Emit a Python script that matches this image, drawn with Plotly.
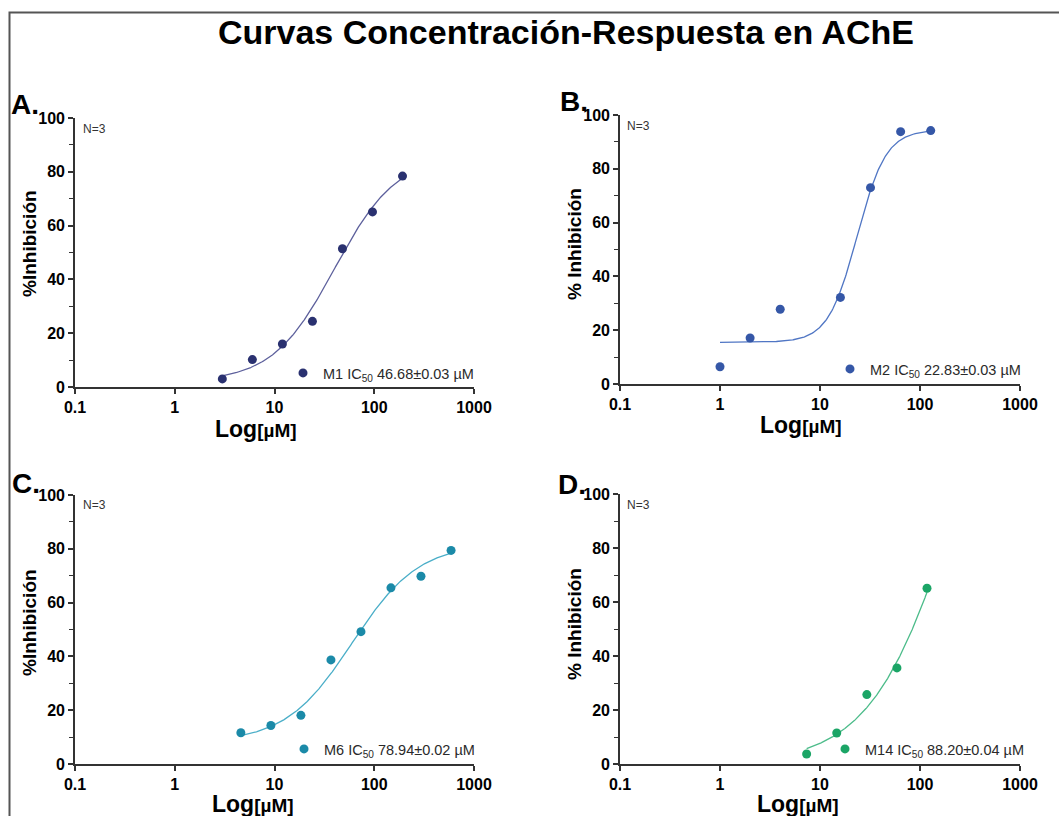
import numpy as np
import plotly.graph_objects as go

W, H = 1059, 816

# ---------------- data ----------------
compounds = ["M1", "M2", "M6", "M14"]
conc_M1 = [3, 6, 12, 24, 48, 96, 192]
inh_M1 = [3.0, 10.2, 16.0, 24.4, 51.4, 65.1, 78.4]
conc_M2 = [1, 2, 4, 16, 32, 64, 128]
inh_M2 = [6.4, 17.1, 27.8, 32.2, 73.0, 93.8, 94.2]
conc_M6 = [4.6, 9.2, 18.4, 36.8, 73.6, 147, 294, 589]
inh_M6 = [11.6, 14.3, 18.1, 38.7, 49.2, 65.5, 69.8, 79.4]
conc_M14 = [7.35, 14.7, 29.4, 58.8, 117.5]
inh_M14 = [3.7, 11.5, 25.7, 35.6, 65.1]

ic50_labels = ["46.68±0.03", "22.83±0.03", "78.94±0.02", "88.20±0.04"]

# fitted 4-parameter logistic curves (bottom, top, EC50, hill)
fit_bottom = [2, 15.5, 8, 0]
fit_top = [86, 94.5, 82, 200]
fit_ec50 = [40, 23.5, 60, 252]
fit_hill = [1.4, 3.0, 1.3, 1.0]

x_tick_vals = [0.1, 1, 10, 100, 1000]
x_tick_text = ["0.1", "1", "10", "100", "1000"]
panel_letters = ["A.", "B.", "C.", "D."]
y_titles = ["%Inhibición", "% Inhibición", "%Inhibición", "% Inhibición"]

marker_colors = ["#2a3170", "#3557a7", "#1b8aa8", "#1ba566"]
line_colors = ["#5d609c", "#5076c4", "#4aaec8", "#4cbc8a"]

concs = [conc_M1, conc_M2, conc_M6, conc_M14]
inhs = [inh_M1, inh_M2, inh_M6, inh_M14]

# ---------------- layout geometry (pixels) ----------------
def px(x):
    return x / W

def py(y):
    return 1 - y / H

# axis boxes: (x_left, x_right, y_bottom, y_top) in pixels
boxes = [(75, 474, 387, 118), (620, 1020, 384, 115),
         (75, 474, 764, 495), (620, 1020, 764, 494)]
legend_pos = [(283, 373), (830, 369), (284, 749), (825, 749)]
ytitle_pos = [(29, 244), (574, 244), (29, 623), (574, 624)]
xtitle_pos = [(256, 429), (801, 425), (253, 804), (798, 804)]
n_pos = [(81, 129), (625, 126), (81, 505), (625, 505)]
letter_pos = [(25, 104), (574, 101), (26, 483), (572, 484)]

FONT = "Liberation Sans, Arial, sans-serif"
AX = "#333333"

fig = go.Figure()
annotations = []
layout = dict(width=W, height=H, autosize=False,
              margin=dict(l=0, r=0, t=0, b=0, pad=0, autoexpand=False),
              paper_bgcolor="white", plot_bgcolor="white",
              font=dict(family=FONT, color="black"),
              showlegend=True)

for i in range(4):
    sfx = "" if i == 0 else str(i + 1)
    xa, ya = "x" + sfx, "y" + sfx
    leg = "legend" + sfx
    xl, xr, yb, yt = boxes[i]

    xs = np.logspace(np.log10(min(concs[i])), np.log10(max(concs[i])), 300)
    b, t, c, h = fit_bottom[i], fit_top[i], fit_ec50[i], fit_hill[i]
    ys = b + (t - b) / (1 + (c / xs) ** h)

    fig.add_trace(go.Scatter(x=xs, y=ys, mode="lines", xaxis=xa, yaxis=ya,
                             line=dict(color=line_colors[i], width=1.3),
                             showlegend=False, hoverinfo="skip"))
    fig.add_trace(go.Scatter(x=concs[i], y=inhs[i], mode="markers", xaxis=xa, yaxis=ya,
                             marker=dict(color=marker_colors[i], size=9),
                             name=f"{compounds[i]} IC<sub>50</sub> {ic50_labels[i]} µM",
                             legend=leg, cliponaxis=False))

    layout["xaxis" + sfx] = dict(
        type="log", range=[-1, 3], domain=[px(xl), px(xr)], anchor=ya, automargin=False,
        showline=True, linecolor=AX, linewidth=1.6, ticks="outside", ticklen=5,
        tickwidth=1.6, tickcolor=AX, tickvals=x_tick_vals, ticktext=x_tick_text,
        tickfont=dict(size=16, family=FONT, color="black", weight="bold"),
        showgrid=False, zeroline=False)
    layout["yaxis" + sfx] = dict(
        range=[0, 100], domain=[py(yb), py(yt)], anchor=xa, automargin=False,
        showline=True, linecolor=AX, linewidth=1.6, ticks="outside", ticklen=5,
        tickwidth=1.6, tickcolor=AX, tickmode="linear", tick0=0, dtick=20,
        minor=dict(dtick=10, ticks="outside", ticklen=4, tickwidth=1.4, tickcolor=AX, showgrid=False),
        tickfont=dict(size=16, family=FONT, color="black", weight="bold"),
        showgrid=False, zeroline=False)
    layout[leg] = dict(x=px(legend_pos[i][0]), y=py(legend_pos[i][1]),
                       xanchor="left", yanchor="middle", bgcolor="rgba(0,0,0,0)",
                       font=dict(size=14.5, family=FONT, color="#2a2a2a"),
                       itemwidth=30, borderwidth=0)

    annotations.append(dict(x=px(ytitle_pos[i][0]), y=py(ytitle_pos[i][1]), xref="paper", yref="paper",
                            text=f"<b>{y_titles[i]}</b>", textangle=-90, showarrow=False,
                            font=dict(size=19, family=FONT, color="black"),
                            xanchor="center", yanchor="middle"))
    annotations.append(dict(x=px(xtitle_pos[i][0]), y=py(xtitle_pos[i][1]), xref="paper", yref="paper",
                            text="<b><span style='font-size:23px'>Log</span>[µM]</b>", showarrow=False,
                            font=dict(size=19, family=FONT, color="black"),
                            xanchor="center", yanchor="middle"))
    annotations.append(dict(x=px(n_pos[i][0]), y=py(n_pos[i][1]), xref="paper", yref="paper",
                            text="N=3", showarrow=False,
                            font=dict(size=12, family=FONT, color="#333333"),
                            xanchor="left", yanchor="middle"))
    annotations.append(dict(x=px(letter_pos[i][0]), y=py(letter_pos[i][1]), xref="paper", yref="paper",
                            text=f"<b>{panel_letters[i]}</b>", showarrow=False,
                            font=dict(size=28, family=FONT, color="black"),
                            xanchor="center", yanchor="middle"))

annotations.append(dict(x=px(566), y=py(32), xref="paper", yref="paper",
                        text="<b>Curvas Concentración-Respuesta en AChE</b>", showarrow=False,
                        font=dict(size=34, family=FONT, color="black"),
                        xanchor="center", yanchor="middle"))
layout["annotations"] = annotations
layout["shapes"] = [dict(type="rect", xref="paper", yref="paper",
                         x0=px(9.5), x1=1.05, y0=-0.05, y1=py(12.5),
                         line=dict(color="#555555", width=2), fillcolor="rgba(0,0,0,0)")]

fig.update_layout(**layout)
fig.write_html("out.html",
               post_script="document.body.style.margin='0';document.body.style.overflow='hidden';")
